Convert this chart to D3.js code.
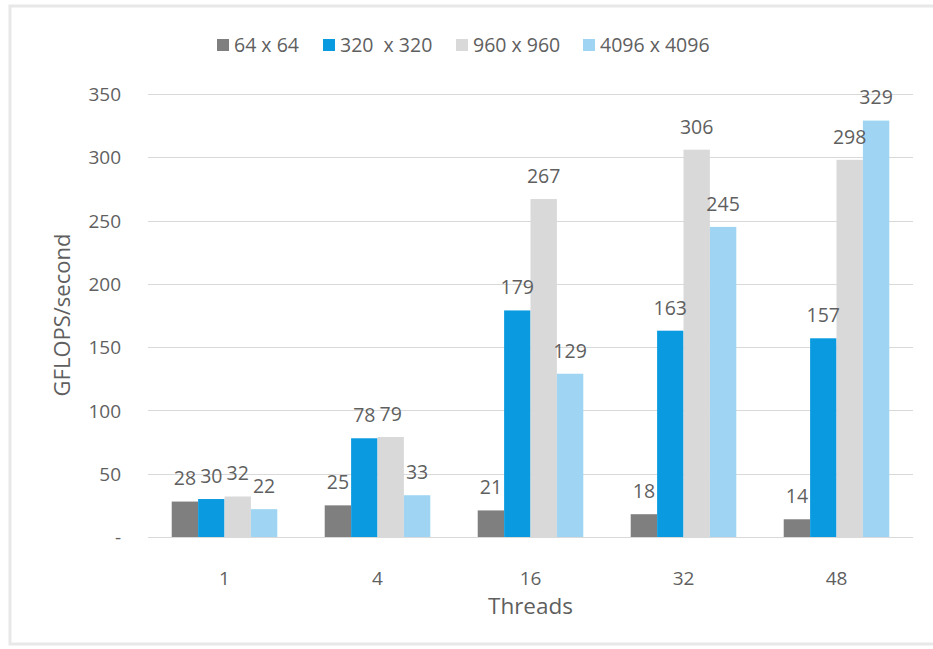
<!DOCTYPE html>
<html>
<head>
<meta charset="utf-8">
<script src="https://cdn.jsdelivr.net/npm/d3@7"></script>
<style>
  html, body { margin: 0; padding: 0; background: #ffffff; }
  svg { display: block; }
  text { font-family: "Open Sans", "Noto Sans", sans-serif; fill: #5f5f5f; }
</style>
</head>
<body>
<svg id="chart" width="933" height="649"></svg>
<script>
const categories = ["1", "4", "16", "32", "48"];
const seriesNames = ["64 x 64", "320  x 320", "960 x 960", "4096 x 4096"];
const series64 = [28, 25, 21, 18, 14];
const series320 = [30, 78, 179, 163, 157];
const series960 = [32, 79, 267, 306, 298];
const series4096 = [22, 33, 129, 245, 329];
const seriesColors = ["#7f7f7f", "#0a9ae0", "#d9d9d9", "#9fd5f3"];
const yTickValues = [0, 50, 100, 150, 200, 250, 300, 350];
const yTickLabels = ["-", "50", "100", "150", "200", "250", "300", "350"];
const xTitle = "Threads";
const yTitle = "GFLOPS/second";

const allSeries = [series64, series320, series960, series4096];

const svg = d3.select("#chart");
const W = 933, H = 649;
const plot = { left: 148, right: 913, top: 94, bottom: 537 };

// frame
svg.append("rect")
  .attr("x", 10).attr("y", 6)
  .attr("width", W + 10).attr("height", 638)
  .attr("fill", "none")
  .attr("stroke", "#e8e8e8")
  .attr("stroke-width", 3);

const x0 = d3.scaleBand()
  .domain(categories)
  .range([plot.left, plot.right])
  .paddingInner(0.31)
  .paddingOuter(0.155);

const x1 = d3.scaleBand()
  .domain(d3.range(seriesNames.length))
  .range([0, x0.bandwidth()])
  .padding(0);

const y = d3.scaleLinear()
  .domain([0, 350])
  .range([plot.bottom, plot.top]);

// gridlines
svg.append("g")
  .selectAll("line")
  .data(yTickValues)
  .join("line")
  .attr("x1", plot.left)
  .attr("x2", plot.right)
  .attr("y1", d => Math.round(y(d)) + 0.5)
  .attr("y2", d => Math.round(y(d)) + 0.5)
  .attr("stroke", "#d9d9d9")
  .attr("stroke-width", 1);

// y axis labels
const yAxis = d3.axisLeft(y)
  .tickValues(yTickValues)
  .tickFormat((d, i) => yTickLabels[i])
  .tickSize(0)
  .tickPadding(0);
const yg = svg.append("g")
  .attr("transform", `translate(${121},0)`)
  .call(yAxis);
yg.select(".domain").remove();
yg.selectAll("text")
  .style("font-family", '"Open Sans", "Noto Sans", sans-serif')
  .style("font-size", "19px")
  .attr("fill", "#5f5f5f")
  .attr("dy", "0.35em");

// x axis labels
const xAxis = d3.axisBottom(x0).tickSize(0).tickPadding(0);
const xg = svg.append("g")
  .attr("transform", `translate(0,${567})`)
  .call(xAxis);
xg.select(".domain").remove();
xg.selectAll("text")
  .style("font-family", '"Open Sans", "Noto Sans", sans-serif')
  .style("font-size", "19px")
  .attr("fill", "#5f5f5f")
  .attr("dy", "0.35em")
  .attr("y", 11);

// bars
const groups = svg.append("g")
  .selectAll("g")
  .data(categories)
  .join("g")
  .attr("transform", d => `translate(${x0(d)},0)`);

groups.selectAll("rect")
  .data((c, ci) => allSeries.map((s, si) => ({ si, v: s[ci] })))
  .join("rect")
  .attr("x", d => x1(d.si))
  .attr("width", x1.bandwidth())
  .attr("y", d => y(d.v))
  .attr("height", d => y(0) - y(d.v))
  .attr("fill", d => seriesColors[d.si]);

groups.selectAll("text.lbl")
  .data((c, ci) => allSeries.map((s, si) => ({ si, v: s[ci] })))
  .join("text")
  .attr("class", "lbl")
  .attr("x", d => x1(d.si) + x1.bandwidth() / 2)
  .attr("y", d => y(d.v) - 23)
  .attr("dy", "0.35em")
  .attr("text-anchor", "middle")
  .style("font-size", "19.5px")
  .text(d => d.v);

// axis titles
svg.append("text")
  .attr("x", (plot.left + plot.right) / 2)
  .attr("y", 606)
  .attr("dy", "0.35em")
  .attr("text-anchor", "middle")
  .style("font-size", "22.5px")
  .text(xTitle);

svg.append("text")
  .attr("transform", `translate(62,${315}) rotate(-90)`)
  .attr("dy", "0.35em")
  .attr("text-anchor", "middle")
  .style("font-size", "22px")
  .text(yTitle);

// legend
const legendX = [217, 323, 456, 583];
const legend = svg.append("g")
  .selectAll("g")
  .data(seriesNames)
  .join("g")
  .attr("transform", (d, i) => `translate(${legendX[i]},45)`);
legend.append("rect")
  .attr("x", 0).attr("y", -6)
  .attr("width", 12).attr("height", 12)
  .attr("fill", (d, i) => seriesColors[i]);
legend.append("text")
  .attr("x", 17)
  .attr("dy", "0.35em")
  .style("font-size", "19.5px")
  .attr("xml:space", "preserve")
  .style("white-space", "pre")
  .text(d => d);
</script>
</body>
</html>
